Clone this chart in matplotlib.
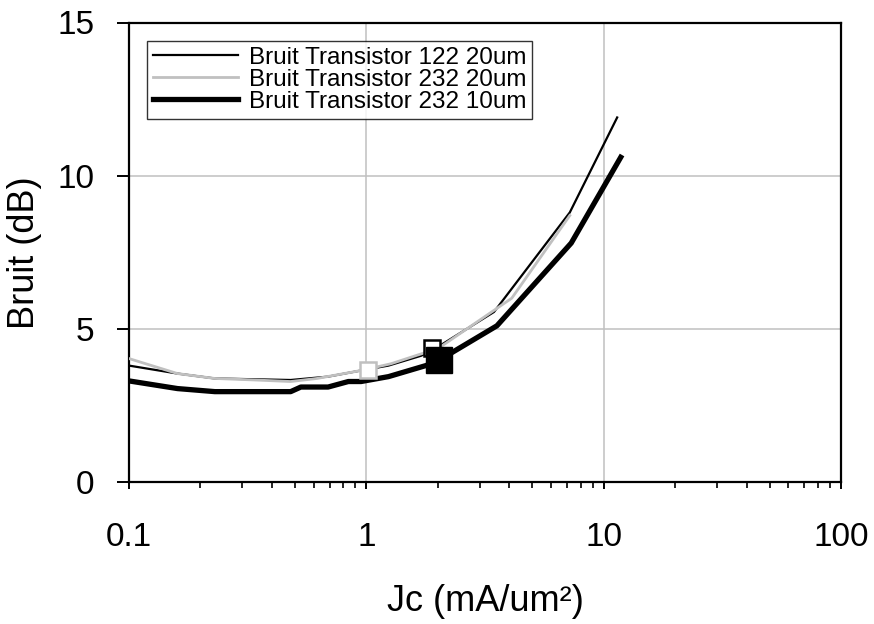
import matplotlib
matplotlib.use("Agg")
import matplotlib.pyplot as plt
import numpy as np

plt.rcParams['font.family'] = ['Liberation Sans', 'DejaVu Sans']

# Bruit Transistor 122 20um
jc_122_20 = [0.1, 0.16, 0.23, 0.48, 0.69, 0.95, 1.24, 1.7, 1.9, 3.45, 7.2, 11.4]
nf_122_20 = [3.8, 3.54, 3.38, 3.33, 3.44, 3.64, 3.8, 4.12, 4.3, 5.55, 8.8, 11.9]

# Bruit Transistor 232 20um
jc_232_20 = [0.1, 0.11, 0.16, 0.23, 0.34, 0.48, 0.62, 0.95, 1.27, 1.73, 2.0, 4.1, 7.2]
nf_232_20 = [4.03, 3.93, 3.54, 3.38, 3.33, 3.28, 3.38, 3.64, 3.86, 4.2, 4.35, 6.0, 8.7]

# Bruit Transistor 232 10um
jc_232_10 = [0.1, 0.16, 0.23, 0.48, 0.53, 0.69, 0.84, 0.95, 1.24, 1.78, 2.0, 3.55, 7.3, 11.8]
nf_232_10 = [3.3, 3.05, 2.95, 2.95, 3.1, 3.1, 3.28, 3.28, 3.44, 3.8, 3.95, 5.1, 7.8, 10.6]

# optimum points
opt_gray = (1.02, 3.66)
opt_black_open = (1.9, 4.36)
opt_black_filled = (2.02, 3.98)

fig = plt.figure(figsize=(8.74, 6.24), dpi=100)
ax = fig.add_axes([129 / 874, 1 - 482 / 624, 712 / 874, 459.5 / 624])

ax.plot(jc_122_20, nf_122_20, color='black', lw=1.6, label='Bruit Transistor 122 20um', zorder=3)
ax.plot(jc_232_20, nf_232_20, color='#c0c0c0', lw=2, label='Bruit Transistor 232 20um', zorder=3)
ax.plot(jc_232_10, nf_232_10, color='black', lw=3.8, label='Bruit Transistor 232 10um', zorder=3)

ax.plot(*opt_gray, marker='s', ms=11.5, mfc='white', mec='#c0c0c0', mew=1.8, ls='none', zorder=4)
ax.plot(*opt_black_open, marker='s', ms=11.5, mfc='white', mec='black', mew=1.8, ls='none', zorder=4)
ax.plot(*opt_black_filled, marker='s', ms=19, mfc='black', mec='black', ls='none', zorder=5)

ax.set_xscale('log')
ax.set_xlim(0.1, 100)
ax.set_ylim(0, 15)
ax.set_yticks([0, 5, 10, 15])
ax.set_xticks([0.1, 1, 10, 100])
ax.set_xticklabels(['0.1', '1', '10', '100'])
ax.grid(True, which='major', color='#c0c0c0', lw=1.1)
ax.set_axisbelow(True)

for s in ax.spines.values():
    s.set_linewidth(1.6)
ax.tick_params(axis='y', which='major', direction='out', length=9, width=1.4, labelsize=24, pad=16)
ax.tick_params(axis='x', which='major', direction='out', length=5, width=1.4, labelsize=24, pad=24)
ax.tick_params(axis='x', which='minor', direction='out', length=4, width=1.2)

ax.set_xlabel('Jc (mA/um²)', fontsize=26)
ax.set_ylabel('Bruit (dB)', fontsize=26)
ax.xaxis.set_label_coords(0.5, -0.222)
ax.yaxis.set_label_coords(-0.122, 0.5)

leg = ax.legend(loc='upper left', bbox_to_anchor=(0.025, 0.96), fontsize=17.5,
                frameon=True, fancybox=False, handlelength=3.5, handletextpad=0.45,
                labelspacing=0.0, borderpad=0.25, borderaxespad=0)
leg.get_frame().set_edgecolor('black')
leg.get_frame().set_linewidth(1)

fig.savefig('out.png', dpi=100)
